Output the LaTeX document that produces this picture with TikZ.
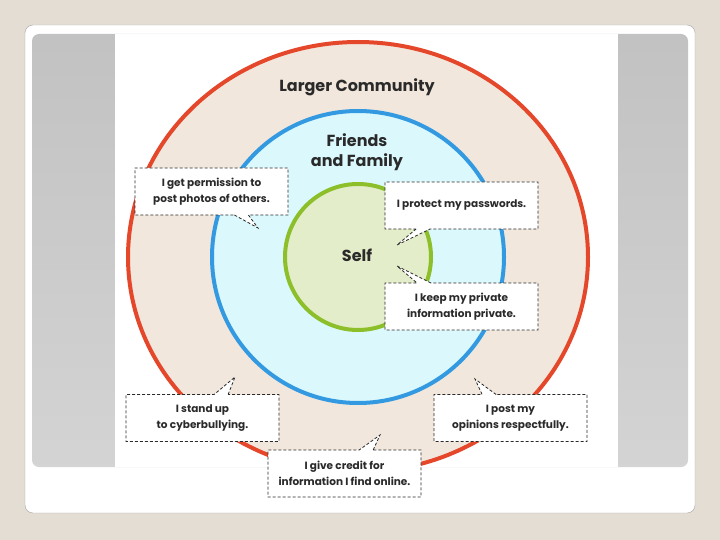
\documentclass[tikz,border=0pt]{standalone}
\usepackage{fontspec}
\setmainfont{Poppins}
\usetikzlibrary{shapes.callouts}
\definecolor{pageBg}{HTML}{E3DDD3}
\definecolor{ringRed}{HTML}{E5472B}
\definecolor{ringBlue}{HTML}{3399E0}
\definecolor{ringGreen}{HTML}{8CBF2A}
\definecolor{fillRed}{HTML}{F1E7DC}
\definecolor{fillBlue}{HTML}{DBF9FD}
\definecolor{fillGreen}{HTML}{E4EDC9}
\definecolor{inkGray}{HTML}{2A2A2A}

\begin{document}
\begin{tikzpicture}[x=1pt,y=-1pt,
  ring/.style={line width=4pt},
  ringlabel/.style={text=inkGray,font=\bfseries\fontsize{16}{20}\selectfont,align=center},
  talk/.style={rectangle callout,draw=inkGray,fill=white,dash pattern=on 3pt off 2pt,
    line width=.8pt,minimum width=153pt,minimum height=47pt,inner sep=0pt,align=center,
    text=inkGray,font=\bfseries\fontsize{10.5}{15.5}\selectfont,callout pointer width=14pt}]
\useasboundingbox (0,0) rectangle (720,540);
\fill[pageBg] (0,0) rectangle (720,540);
\draw[fill=white,draw=black!35,rounded corners=8pt] (25,25) rectangle (695,513);
\shade[top color=black!24,bottom color=black!17,rounded corners=7pt] (32,34) rectangle (688,467);
\fill[white] (115,34) rectangle (618,467);
% the three rings
\draw[ring,draw=ringRed,fill=fillRed] (358,257) ellipse [x radius=230,y radius=215];
\draw[ring,draw=ringBlue,fill=fillBlue] (358,257) circle [radius=146];
\draw[ring,draw=ringGreen,fill=fillGreen] (358,257) circle [radius=73];
\node[ringlabel] (community) at (357,87) {Larger Community};
\node[ringlabel] (family) at (357,152) {Friends\\and Family};
\node[ringlabel] (self) at (357,255) {Self};
% speech boxes
\foreach \nm/\cx/\cy/\tx/\ty/\msg in {
  photos/211.5/191.5/258/228/{I get permission to\\post photos of others.},
  passwords/461.5/205.5/397/245/{I protect my passwords.},
  private/461.5/306.5/397/266/{I keep my private\\information private.},
  bully/202.5/418/235/377/{I stand up\\to cyberbullying.},
  opinions/510.5/418/475/379/{I post my\\opinions respectfully.},
  credit/344.5/473.5/380/435/{I give credit for\\information I find online.}}
{\coordinate (tip-\nm) at (\tx,\ty);
 \node[talk,callout absolute pointer={(tip-\nm)}] (\nm) at (\cx,\cy) {\msg};}
\end{tikzpicture}
\end{document}
